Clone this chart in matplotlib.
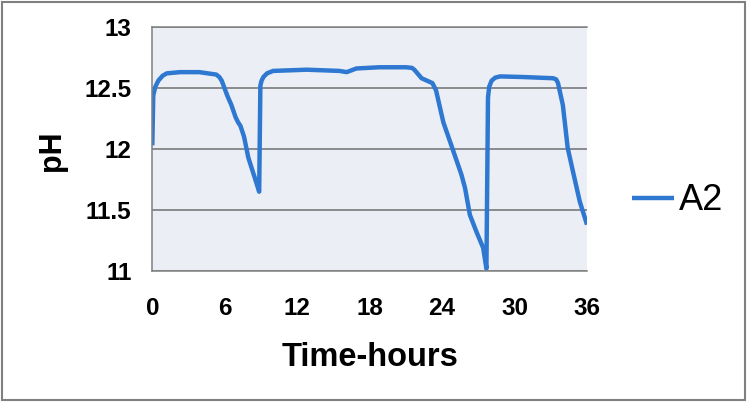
import matplotlib.pyplot as plt
from matplotlib.patches import Rectangle

# pH readings of sample A2
hours = [0.0, 0.08, 0.25, 0.5, 0.85, 1.2, 2.3, 3.9, 5.3, 5.55, 5.75, 6.2, 6.55, 6.9, 7.1, 7.3, 7.6, 7.95, 8.5, 8.85,
         8.95, 9.05, 9.2, 9.5, 10.0, 12.8, 15.5, 16.1, 16.9, 18.8, 21.0, 21.5, 21.7, 22.3, 23.2, 23.5,
         24.1, 24.8, 25.6, 25.9, 26.3, 26.85, 27.4, 27.67, 27.8, 27.9, 28.1, 28.4, 28.8, 30.7,
         33.2, 33.45, 33.6, 34.0, 34.4, 34.85, 35.4, 36.0]
ph = [12.03, 12.44, 12.51, 12.56, 12.6, 12.62, 12.63, 12.63, 12.61, 12.59, 12.56, 12.44, 12.36, 12.26, 12.22, 12.19, 12.1, 11.93, 11.76, 11.65,
      12.52, 12.56, 12.59, 12.62, 12.64, 12.65, 12.64, 12.63, 12.66, 12.67, 12.67, 12.665, 12.65, 12.58, 12.54, 12.48,
      12.22, 12.02, 11.79, 11.68, 11.46, 11.32, 11.19, 11.02, 12.42, 12.51, 12.56, 12.585, 12.595, 12.59,
      12.58, 12.57, 12.54, 12.36, 12.01, 11.81, 11.57, 11.38]

x_ticks = [0, 6, 12, 18, 24, 30, 36]
y_ticks = [11, 11.5, 12, 12.5, 13]
y_tick_labels = ["11", "11.5", "12", "12.5", "13"]

plt.rcParams['font.family'] = ['Liberation Sans', 'DejaVu Sans']

fig = plt.figure(figsize=(7.47, 4.04), dpi=100)
fig.patches.append(Rectangle((2 / 747, 1 - 400 / 404), 743 / 747, 398 / 404,
                             transform=fig.transFigure, fill=False,
                             edgecolor='#808080', linewidth=1.5))

ax = fig.add_axes([152.3 / 747, 1 - 271 / 404, 434.7 / 747, 244 / 404])
ax.set_facecolor('#EBEFF5')

ax.plot(hours, ph, color='#2F78D2', linewidth=3.2, label='A2',
        solid_joinstyle='round', solid_capstyle='butt')

ax.set_xlim(0, 36)
ax.set_ylim(11, 13)
ax.set_xticks(x_ticks)
ax.set_yticks(y_ticks)
ax.set_yticklabels(y_tick_labels)
ax.tick_params(axis='both', length=0, labelsize=17.5)
ax.tick_params(axis='x', pad=19)
ax.tick_params(axis='y', pad=15)
for lbl in ax.get_xticklabels() + ax.get_yticklabels():
    lbl.set_fontweight('bold')

ax.grid(axis='y', color='#707070', linewidth=1.1)
ax.set_axisbelow(True)
for side in ['left', 'bottom', 'top']:
    ax.spines[side].set_color('#808080')
    ax.spines[side].set_linewidth(1.1)
ax.spines['right'].set_visible(False)

ax.set_xlabel('Time-hours', fontsize=23.5, fontweight='bold')
ax.xaxis.set_label_coords(0.5, -0.29)
ax.set_ylabel('pH', fontsize=22, fontweight='bold')
ax.yaxis.set_label_coords(-0.196, 0.493)

ax.legend(loc='center left', bbox_to_anchor=(632 / 747, 1 - 201 / 404),
          bbox_transform=fig.transFigure, frameon=False, fontsize=26,
          handlelength=1.17, handletextpad=0.14, borderpad=0, borderaxespad=0)

plt.savefig('out.png', dpi=100)
